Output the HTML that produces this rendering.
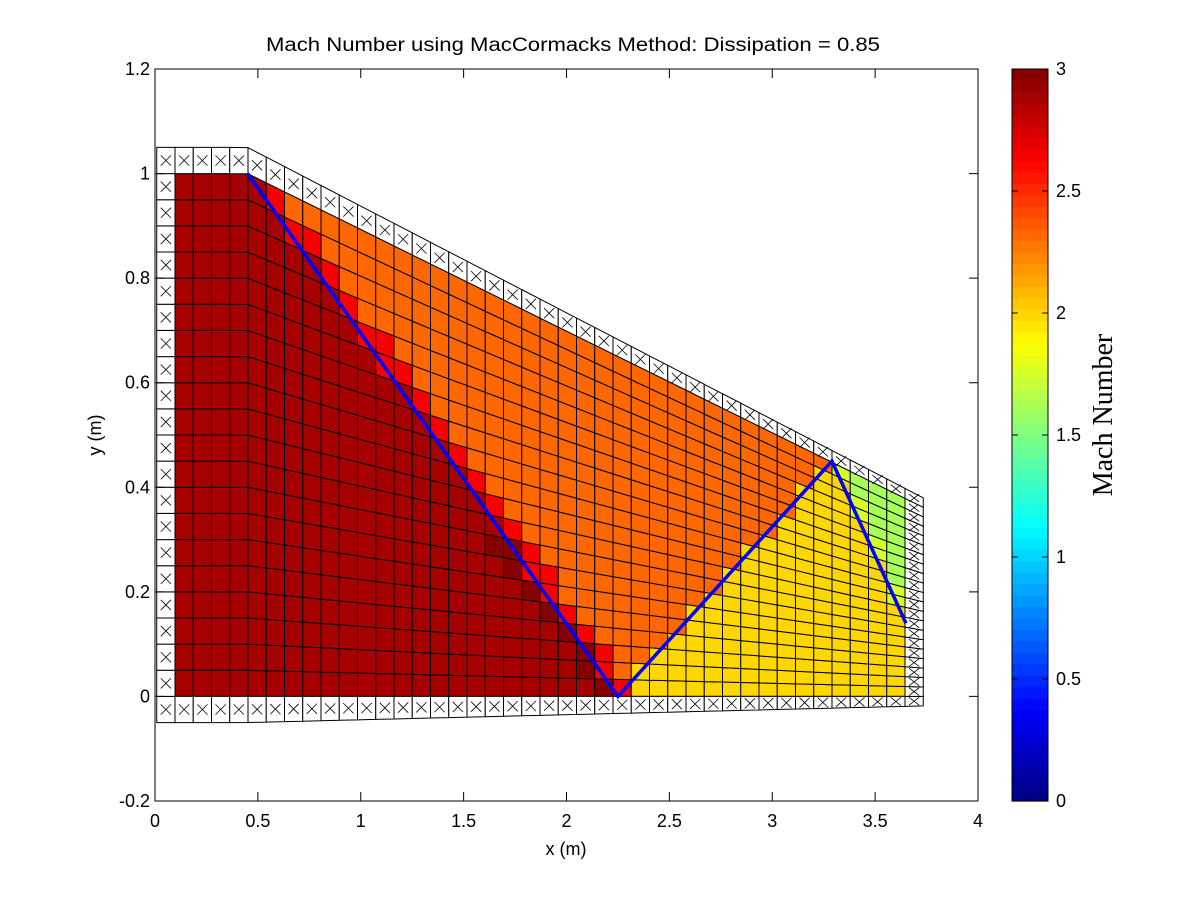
<!DOCTYPE html>
<html><head><meta charset="utf-8"><style>
html,body{margin:0;padding:0;background:#fff}
svg text{font-family:"Liberation Sans",sans-serif;fill:#000}
</style></head><body>
<svg id="chart" width="1200" height="900" viewBox="0 0 1200 900" xmlns="http://www.w3.org/2000/svg">
<rect width="1200" height="900" fill="#fff"/>
<g id="cells"></g>
<g id="ghosts"></g>
<g id="shock"></g>
<g id="axes"></g>
<g id="cbar"></g>
<text x="266" y="51" font-size="19" textLength="614" lengthAdjust="spacingAndGlyphs">Mach Number using MacCormacks Method: Dissipation = 0.85</text>
<text x="566" y="855" font-size="18" text-anchor="middle">x (m)</text>
<text x="101" y="435" font-size="18" text-anchor="middle" transform="rotate(-90 101 435)">y (m)</text>
<text x="1112" y="415" font-size="28" text-anchor="middle" style="font-family:'Liberation Serif',serif" transform="rotate(-90 1112 415)">Mach Number</text>
</svg>
<script>
const xTicks=[0,0.5,1,1.5,2,2.5,3,3.5,4];
const yTicks=[-0.2,0,0.2,0.4,0.6,0.8,1,1.2];
const cTicks=[0,0.5,1,1.5,2,2.5,3];
const regionValues=[2.9,2.33,1.97,1.62];
const smearValues=[2.65,2.98,1.75];
const shockX=[0.45,2.25,3.29,3.65];
const shockY=[1,0,0.45,0.14];
const meshX0=0.0972, meshDX=0.0887, nCols=40, nRows=20, wedgeAngleDeg=11;

const NS='http://www.w3.org/2000/svg';
const X0=155,X1=978,Y0=801,Y1=69;
const xs=x=>X0+(x-0)/(4-0)*(X1-X0);
const ys=y=>Y0-(y+0.2)/1.4*(Y0-Y1);
function mk(tag,attrs,parent){const e=document.createElementNS(NS,tag);for(const k in attrs)e.setAttribute(k,attrs[k]);parent.appendChild(e);return e;}
function jet(v){let t=Math.max(0,Math.min(1,v/3));t=(Math.min(63,Math.floor(t*64))+0.5)/64;
 const c=a=>Math.round(255*Math.max(0,Math.min(1,a)));
 return `rgb(${c(1.5-Math.abs(4*t-3))},${c(1.5-Math.abs(4*t-2))},${c(1.5-Math.abs(4*t-1))})`;}
const tanA=Math.tan(wedgeAngleDeg*Math.PI/180);
const topY=x=>x<=shockX[0]+1e-6?1:1-(x-shockX[0])*tanA;
const xb=i=>meshX0+i*meshDX;
const yr=(x,j)=>j*topY(x)/nRows;
function quad(i,j){const a=xb(i),b=xb(i+1);
 return [[xs(a),ys(yr(a,j))],[xs(b),ys(yr(b,j))],[xs(b),ys(yr(b,j+1))],[xs(a),ys(yr(a,j+1))]];}
function value(cx,cy){
 const xl1=shockX[0]+(shockY[0]-cy)*(shockX[1]-shockX[0])/(shockY[0]-shockY[1]);
 const d=cx-xl1;
 if(d<0){ if(d>-meshDX&&cy<0.3) return smearValues[1]; return regionValues[0]; }
 if(d<meshDX) return smearValues[0];
 if(cx>shockX[1]){
  const yl2=shockY[1]+(cx-shockX[1])*(shockY[2]-shockY[1])/(shockX[2]-shockX[1]);
  const xl3=shockX[2]+(shockY[2]-cy)*(shockX[3]-shockX[2])/(shockY[2]-shockY[3]);
  if(cx>shockX[2]&&cx>xl3&&cy>0.08) return (cx-xl3<meshDX*0.5)?smearValues[2]:regionValues[3];
  if(cy<yl2||cx>shockX[2]) return regionValues[2];
 }
 return regionValues[1];
}
const cells=document.getElementById('cells');
for(let i=0;i<nCols;i++)for(let j=0;j<nRows;j++){
 const cx=(xb(i)+xb(i+1))/2, cy=(j+0.5)*topY(cx)/nRows;
 const p=mk('polygon',{points:quad(i,j).map(q=>q.join(',')).join(' '),fill:jet(value(cx,cy)),stroke:'#000','stroke-width':1},cells);
 
 
}
const ghosts=document.getElementById('ghosts');
function ghost(pts){
 const g=mk('g',{},ghosts);
 
 
 mk('polygon',{points:pts.map(q=>q.join(',')).join(' '),fill:'#fff',stroke:'#000','stroke-width':1},g);
 const cxp=(pts[0][0]+pts[1][0]+pts[2][0]+pts[3][0])/4, cyp=(pts[0][1]+pts[1][1]+pts[2][1]+pts[3][1])/4;
 const w=Math.abs(pts[1][0]-pts[0][0])*0.28, h=Math.min(Math.abs(pts[3][1]-pts[0][1])*0.4,w);
 mk('path',{d:`M${cxp-w},${cyp-h}L${cxp+w},${cyp+h}M${cxp-w},${cyp+h}L${cxp+w},${cyp-h}`,stroke:'#000','stroke-width':0.8,fill:'none'},g);
}
for(let i=0;i<nCols;i++){ghost(quad(i,nRows));ghost(quad(i,-1));}
for(let j=-1;j<=nRows;j++){
 const a=xb(-1),b=xb(0);
 ghost([[xs(a),ys(j/nRows)],[xs(b),ys(j/nRows)],[xs(b),ys((j+1)/nRows)],[xs(a),ys((j+1)/nRows)]]);
 ghost(quad(nCols,j));
}
const sh=document.getElementById('shock');
const sl=mk('polyline',{points:shockX.map((x,k)=>xs(x)+','+ys(shockY[k])).join(' '),fill:'none',stroke:'#0000ff','stroke-width':3.5,'stroke-linejoin':'miter'},sh);



const ax=document.getElementById('axes');
mk('rect',{x:X0,y:Y1,width:X1-X0,height:Y0-Y1,fill:'none',stroke:'#000','stroke-width':1},ax);
xTicks.forEach(v=>{const x=xs(v);
 mk('path',{d:`M${x},${Y0}V${Y0-9}M${x},${Y1}V${Y1+9}`,stroke:'#000'},ax);
 const t=mk('text',{x:x,y:Y0+26,'font-size':18,'text-anchor':'middle'},ax);t.textContent=String(v);
 
 
});
yTicks.forEach(v=>{const y=ys(v);
 mk('path',{d:`M${X0},${y}H${X0+9}M${X1},${y}H${X1-9}`,stroke:'#000'},ax);
 const t=mk('text',{x:X0-5,y:y+6,'font-size':18,'text-anchor':'end'},ax);t.textContent=String(v);
 
 
});
const cb=document.getElementById('cbar');
const CX0=1012,CX1=1048;const cy=v=>Y0-v/3*(Y0-Y1);
for(let k=0;k<64;k++){const v0=k*3/64,v1=(k+1)*3/64;
 mk('rect',{x:CX0,y:cy(v1),width:CX1-CX0,height:cy(v0)-cy(v1)+0.6,fill:jet((v0+v1)/2)},cb);}
mk('rect',{x:CX0,y:Y1,width:CX1-CX0,height:Y0-Y1,fill:'none',stroke:'#000'},cb);
cTicks.forEach(v=>{const y=cy(v);
 mk('path',{d:`M${CX0},${y}H${CX0+6}M${CX1},${y}H${CX1-6}`,stroke:'#000'},cb);
 const t=mk('text',{x:CX1+8,y:y+6,'font-size':18},cb);t.textContent=String(v);
 
 
});
</script>
</body></html>
